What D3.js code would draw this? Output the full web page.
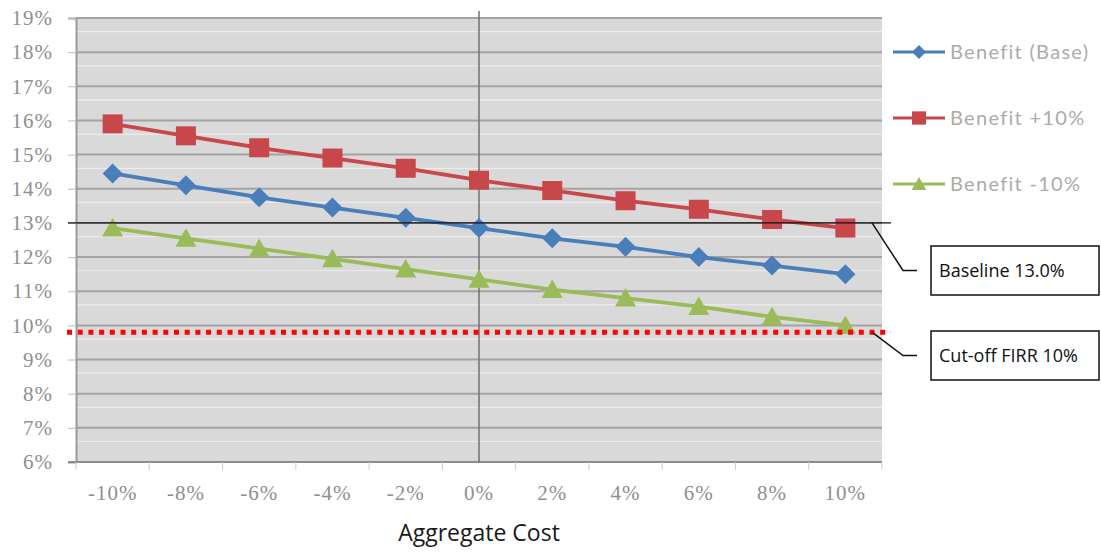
<!DOCTYPE html>
<html><head><meta charset="utf-8">
<script src="https://cdn.jsdelivr.net/npm/d3@7"></script>
<style>body{margin:0;background:#fff}svg{display:block}</style>
</head><body>
<svg id="c" width="1101" height="552"></svg>
<script>
const categories = ["-10%","-8%","-6%","-4%","-2%","0%","2%","4%","6%","8%","10%"];
const benefitBase = [14.45,14.1,13.75,13.45,13.15,12.85,12.55,12.3,12.0,11.75,11.5];
const benefitPlus = [15.9,15.55,15.2,14.9,14.6,14.25,13.95,13.65,13.4,13.1,12.85];
const benefitMinus = [12.85,12.55,12.25,11.95,11.65,11.35,11.05,10.8,10.55,10.25,10.0];
const seriesNames = ["Benefit (Base)","Benefit +10%","Benefit -10%"];
const yTicks = [6,7,8,9,10,11,12,13,14,15,16,17,18,19];
const baselineValue = 13.0;
const cutoffValue = 9.8;
const baselineLabel = "Baseline 13.0%";
const cutoffLabel = "Cut-off FIRR 10%";
const xTitle = "Aggregate Cost";

const svg = d3.select("#c");
const L=76, R=882, T=18, B=462;
const x = d3.scaleBand().domain(categories).range([L,R]);
const y = d3.scaleLinear().domain([6,19]).range([B,T]);
const cx = c => x(c)+x.bandwidth()/2;

// plot background
svg.append("rect").attr("x",L).attr("y",T).attr("width",R-L).attr("height",B-T).attr("fill","#d9d9d9");
svg.append("g").selectAll("line").data(yTicks.slice(0,-1)).join("line")
  .attr("x1",L).attr("x2",R).attr("y1",d=>y(d+0.6)).attr("y2",d=>y(d+0.6))
  .attr("stroke","#ececec").attr("stroke-width",1.2);
svg.append("g").selectAll("line").data(yTicks).join("line")
  .attr("x1",L).attr("x2",R).attr("y1",d=>y(d)).attr("y2",d=>y(d))
  .attr("stroke","#a3a3a3").attr("stroke-width",2);

// y axis
const yAxis = d3.axisLeft(y).tickValues(yTicks).tickSize(8).tickFormat(d=>d+"%");
const gy = svg.append("g").attr("transform",`translate(${L},0)`).call(yAxis);
gy.select(".domain").attr("stroke","#9a9a9a").attr("stroke-width",2);
gy.selectAll(".tick line").attr("stroke","#bbb");
gy.selectAll(".tick text").attr("x",-23).attr("fill","#8f8f8f")
  .style("font-family","Liberation Serif").style("font-size","21px").style("letter-spacing","1px");

// x axis
const xAxis = d3.axisBottom(x).tickSize(0);
const gx = svg.append("g").attr("transform",`translate(0,${B})`).call(xAxis);
gx.select(".domain").attr("stroke","#8c8c8c").attr("stroke-width",2).attr("d",`M${L-8},0H${R}`);
gx.selectAll(".tick text").attr("y",23).attr("fill","#8f8f8f")
  .style("font-family","Liberation Serif").style("font-size","21px").style("letter-spacing","1px");
svg.append("g").selectAll("line").data(categories.concat(["end"])).join("line")
  .attr("x1",(d,i)=>L+i*x.step()).attr("x2",(d,i)=>L+i*x.step())
  .attr("y1",B).attr("y2",B+8).attr("stroke","#ccc");

// vertical line at 0%
svg.append("line").attr("x1",cx("0%")).attr("x2",cx("0%")).attr("y1",11).attr("y2",B)
  .attr("stroke","#707070").attr("stroke-width",1.5);

// x title
svg.append("text").attr("x",cx("0%")).attr("y",541).attr("text-anchor","middle")
  .style("font-family","Open Sans").style("font-size","23px").attr("fill","#1a1a1a").text(xTitle);

// series
const colors = ["#4a7ebb","#c8474a","#9bbb59"];
const allSeries = [benefitBase, benefitPlus, benefitMinus];
const line = d3.line().x((d,i)=>cx(categories[i])).y(d=>y(d));
const shapePaths = [
  s => `M0,${-10*s}L${10*s},0L0,${10*s}L${-10*s},0Z`,
  s => `M${-10*s},${-9.5*s}H${10*s}V${9.5*s}H${-10*s}Z`,
  s => `M0,${-10*s}L${10.5*s},${8.5*s}H${-10.5*s}Z`
];
allSeries.forEach((s,k)=>{
  svg.append("path").datum(s).attr("d",line).attr("fill","none")
    .attr("stroke",colors[k]).attr("stroke-width",3.8);
  svg.append("g").selectAll("path").data(s).join("path")
    .attr("transform",(d,i)=>`translate(${cx(categories[i])},${y(d)})`)
    .attr("d",shapePaths[k](1)).attr("fill",colors[k]);
});

// baseline line
svg.append("line").attr("x1",L-8).attr("x2",891).attr("y1",y(baselineValue)).attr("y2",y(baselineValue))
  .attr("stroke","#111").attr("stroke-width",1.2);
// cutoff dotted line
svg.append("line").attr("x1",67).attr("x2",891).attr("y1",y(cutoffValue)).attr("y2",y(cutoffValue))
  .attr("stroke","#ff0000").attr("stroke-width",5).attr("stroke-dasharray","5,5.7");

// callouts
function callout(yv, boxY, label){
  const py = y(yv);
  const my = boxY+24.5;
  svg.append("path").attr("d",`M872,${py}L903,${my}H917`).attr("fill","none").attr("stroke","#111").attr("stroke-width",1.5);
  svg.append("rect").attr("x",931).attr("y",boxY).attr("width",168).attr("height",49)
    .attr("fill","#fff").attr("stroke","#111").attr("stroke-width",1.5);
  svg.append("text").attr("x",939).attr("y",boxY+31).style("font-family","Open Sans").style("font-size","18px")
    .attr("fill","#111").text(label);
}
callout(baselineValue, 246, baselineLabel);
callout(cutoffValue, 331, cutoffLabel);

// legend
const legY = [52,118,184];
seriesNames.forEach((n,k)=>{
  const g = svg.append("g").attr("transform",`translate(0,${legY[k]})`);
  g.append("line").attr("x1",893).attr("x2",945).attr("y1",0).attr("y2",0).attr("stroke",colors[k]).attr("stroke-width",3);
  g.append("path").attr("transform",`translate(919,0)`).attr("d",shapePaths[k](0.7)).attr("fill",colors[k]);
  g.append("text").attr("x",950).attr("y",7).style("font-family","Lato").style("font-size","20px")
    .style("letter-spacing","1.3px").attr("fill","#ababab").text(n);
});
</script>
</body></html>
